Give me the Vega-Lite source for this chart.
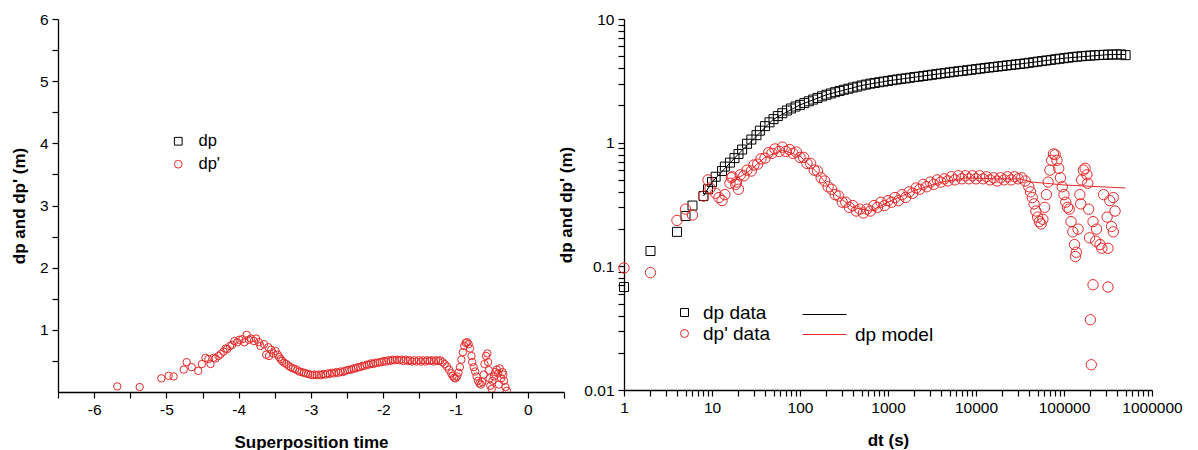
{
"$schema":"https://vega.github.io/schema/vega-lite/v6.json",
"background":"white",
"padding":{"left":10,"top":12,"right":0,"bottom":0},
"bounds":"flush",
"spacing":60,
"config":{
 "view":{"stroke":null},
 "font":"Liberation Sans",
 "axis":{"grid":false,"domainColor":"#000","domainWidth":1.3,"tickColor":"#000","tickWidth":1.2,"tickSize":6,"labelColor":"#000","labelFont":"Liberation Sans","labelFontSize":15.5,"titleFont":"Liberation Sans","titleFontSize":17,"titleFontWeight":"bold","titleColor":"#000","labelPadding":4,"labelFlush":false,"labelOverlap":false},
 "legend":{"labelFont":"Liberation Sans","labelFontSize":16,"labelColor":"#000","padding":0,"symbolStrokeWidth":1,"symbolOpacity":1,"titlePadding":0}
},
"resolve":{"scale":{"color":"independent","shape":"independent","stroke":"independent"},"legend":{"color":"independent","shape":"independent","stroke":"independent"}},
"datasets":{
 "left":[
  {"x":-5.68,"y":0.09},{"x":-5.37,"y":0.08},{"x":-5.07,"y":0.22},{"x":-4.97,"y":0.26},{"x":-4.9,"y":0.25},{"x":-4.76,"y":0.36},{"x":-4.72,"y":0.48},{"x":-4.65,"y":0.4},{"x":-4.56,"y":0.34},{"x":-4.51,"y":0.45},{"x":-4.46,"y":0.55},{"x":-4.42,"y":0.53},{"x":-4.39,"y":0.45},{"x":-4.35,"y":0.55},{"x":-4.32,"y":0.54},{"x":-4.28,"y":0.58},{"x":-4.25,"y":0.61},{"x":-4.21,"y":0.65},{"x":-4.18,"y":0.7},{"x":-4.16,"y":0.69},{"x":-4.12,"y":0.74},{"x":-4.09,"y":0.76},{"x":-4.06,"y":0.82},{"x":-4.02,"y":0.8},{"x":-3.99,"y":0.84},{"x":-3.95,"y":0.85},{"x":-3.92,"y":0.8},{"x":-3.89,"y":0.92},{"x":-3.86,"y":0.84},{"x":-3.83,"y":0.86},{"x":-3.79,"y":0.82},{"x":-3.76,"y":0.86},{"x":-3.72,"y":0.8},{"x":-3.7,"y":0.74},{"x":-3.65,"y":0.77},{"x":-3.62,"y":0.6},{"x":-3.59,"y":0.72},{"x":-3.58,"y":0.58},{"x":-3.55,"y":0.68},{"x":-3.52,"y":0.62},{"x":-3.49,"y":0.66},{"x":-3.46,"y":0.6},{"x":-3.44,"y":0.56},{"x":-3.42,"y":0.53},{"x":-3.4,"y":0.5},{"x":-3.37,"y":0.47},{"x":-3.34,"y":0.45},{"x":-3.31,"y":0.42},{"x":-3.28,"y":0.4},{"x":-3.25,"y":0.38},{"x":-3.22,"y":0.37},{"x":-3.19,"y":0.35},{"x":-3.16,"y":0.33},{"x":-3.13,"y":0.32},{"x":-3.1,"y":0.31},{"x":-3.07,"y":0.3},{"x":-3.04,"y":0.29},{"x":-3.01,"y":0.28},{"x":-2.98,"y":0.27},{"x":-2.95,"y":0.28},{"x":-2.92,"y":0.27},{"x":-2.89,"y":0.28},{"x":-2.86,"y":0.27},{"x":-2.83,"y":0.29},{"x":-2.8,"y":0.28},{"x":-2.77,"y":0.3},{"x":-2.74,"y":0.29},{"x":-2.71,"y":0.31},{"x":-2.68,"y":0.3},{"x":-2.65,"y":0.32},{"x":-2.62,"y":0.31},{"x":-2.59,"y":0.33},{"x":-2.56,"y":0.32},{"x":-2.53,"y":0.34},{"x":-2.5,"y":0.35},{"x":-2.47,"y":0.36},{"x":-2.44,"y":0.36},{"x":-2.41,"y":0.38},{"x":-2.38,"y":0.38},{"x":-2.35,"y":0.4},{"x":-2.32,"y":0.4},{"x":-2.29,"y":0.42},{"x":-2.26,"y":0.42},{"x":-2.23,"y":0.44},{"x":-2.2,"y":0.44},{"x":-2.17,"y":0.46},{"x":-2.14,"y":0.45},{"x":-2.11,"y":0.47},{"x":-2.08,"y":0.47},{"x":-2.05,"y":0.48},{"x":-2.02,"y":0.48},{"x":-1.99,"y":0.5},{"x":-1.96,"y":0.49},{"x":-1.93,"y":0.51},{"x":-1.9,"y":0.5},{"x":-1.87,"y":0.52},{"x":-1.84,"y":0.51},{"x":-1.81,"y":0.52},{"x":-1.78,"y":0.51},{"x":-1.75,"y":0.52},{"x":-1.72,"y":0.5},{"x":-1.69,"y":0.52},{"x":-1.66,"y":0.5},{"x":-1.63,"y":0.51},{"x":-1.6,"y":0.49},{"x":-1.57,"y":0.51},{"x":-1.54,"y":0.49},{"x":-1.51,"y":0.51},{"x":-1.48,"y":0.49},{"x":-1.45,"y":0.51},{"x":-1.42,"y":0.49},{"x":-1.39,"y":0.51},{"x":-1.36,"y":0.5},{"x":-1.33,"y":0.51},{"x":-1.3,"y":0.49},{"x":-1.27,"y":0.51},{"x":-1.24,"y":0.5},{"x":-1.21,"y":0.51},{"x":-1.18,"y":0.48},{"x":-1.15,"y":0.45},{"x":-1.12,"y":0.41},{"x":-1.09,"y":0.36},{"x":-1.06,"y":0.3},{"x":-1.04,"y":0.26},{"x":-1.02,"y":0.23},{"x":-1.0,"y":0.22},{"x":-0.98,"y":0.25},{"x":-0.96,"y":0.31},{"x":-0.94,"y":0.4},{"x":-0.92,"y":0.52},{"x":-0.9,"y":0.64},{"x":-0.88,"y":0.74},{"x":-0.86,"y":0.79},{"x":-0.84,"y":0.8},{"x":-0.82,"y":0.77},{"x":-0.8,"y":0.7},{"x":-0.78,"y":0.58},{"x":-0.77,"y":0.48},{"x":-0.75,"y":0.4},{"x":-0.73,"y":0.33},{"x":-0.71,"y":0.25},{"x":-0.69,"y":0.18},{"x":-0.67,"y":0.14},{"x":-0.65,"y":0.12},{"x":-0.63,"y":0.16},{"x":-0.61,"y":0.28},{"x":-0.6,"y":0.45},{"x":-0.58,"y":0.58},{"x":-0.56,"y":0.62},{"x":-0.55,"y":0.48},{"x":-0.54,"y":0.35},{"x":-0.53,"y":0.22},{"x":-0.52,"y":0.1},{"x":-0.5,"y":0.05},{"x":-0.49,"y":0.18},{"x":-0.47,"y":0.25},{"x":-0.45,"y":0.32},{"x":-0.43,"y":0.36},{"x":-0.41,"y":0.3},{"x":-0.4,"y":0.12},{"x":-0.39,"y":0.38},{"x":-0.37,"y":0.22},{"x":-0.35,"y":0.32},{"x":-0.34,"y":0.28},{"x":-0.33,"y":0.18},{"x":-0.31,"y":0.08},{"x":-0.29,"y":0.02}
 ],
 "dp":[
  {"t":1,"v":0.068},{"t":2,"v":0.133},{"t":4,"v":0.19},{"t":5,"v":0.255},{"t":6,"v":0.31},{"t":8,"v":0.37},{"t":9,"v":0.42},{"t":10,"v":0.48},{"t":11,"v":0.53},{"t":13,"v":0.59},{"t":14,"v":0.64},{"t":16,"v":0.69},{"t":18,"v":0.75},{"t":20,"v":0.81},{"t":22,"v":0.88},{"t":25,"v":0.98},{"t":28,"v":1.06},{"t":32,"v":1.15},{"t":35,"v":1.25},{"t":40,"v":1.36},{"t":45,"v":1.46},{"t":50,"v":1.55},{"t":56,"v":1.64},{"t":63,"v":1.73},{"t":71,"v":1.82},{"t":79,"v":1.89},{"t":89,"v":1.96},{"t":100,"v":2.02},{"t":112,"v":2.09},{"t":126,"v":2.16},{"t":141,"v":2.23},{"t":158,"v":2.3},{"t":178,"v":2.37},{"t":200,"v":2.44},{"t":224,"v":2.5},{"t":251,"v":2.56},{"t":282,"v":2.62},{"t":316,"v":2.68},{"t":355,"v":2.73},{"t":398,"v":2.79},{"t":447,"v":2.84},{"t":501,"v":2.9},{"t":562,"v":2.95},{"t":631,"v":3.0},{"t":708,"v":3.04},{"t":794,"v":3.08},{"t":891,"v":3.12},{"t":1000,"v":3.16},{"t":1122,"v":3.2},{"t":1259,"v":3.24},{"t":1413,"v":3.28},{"t":1585,"v":3.31},{"t":1778,"v":3.35},{"t":1995,"v":3.39},{"t":2239,"v":3.42},{"t":2512,"v":3.46},{"t":2818,"v":3.5},{"t":3162,"v":3.54},{"t":3548,"v":3.58},{"t":3981,"v":3.62},{"t":4467,"v":3.66},{"t":5012,"v":3.7},{"t":5623,"v":3.74},{"t":6310,"v":3.78},{"t":7079,"v":3.81},{"t":7943,"v":3.85},{"t":8913,"v":3.89},{"t":10000,"v":3.93},{"t":11220,"v":3.97},{"t":12589,"v":4.01},{"t":14125,"v":4.05},{"t":15849,"v":4.09},{"t":17783,"v":4.13},{"t":19953,"v":4.17},{"t":22387,"v":4.21},{"t":25119,"v":4.25},{"t":28184,"v":4.29},{"t":31623,"v":4.33},{"t":35481,"v":4.37},{"t":39811,"v":4.42},{"t":44668,"v":4.47},{"t":50119,"v":4.52},{"t":56234,"v":4.57},{"t":63096,"v":4.62},{"t":70795,"v":4.67},{"t":79433,"v":4.72},{"t":89125,"v":4.77},{"t":100000,"v":4.82},{"t":112202,"v":4.87},{"t":125893,"v":4.92},{"t":141254,"v":4.96},{"t":158489,"v":5.0},{"t":177828,"v":5.03},{"t":199526,"v":5.06},{"t":223872,"v":5.09},{"t":251189,"v":5.11},{"t":281838,"v":5.13},{"t":316228,"v":5.15},{"t":354813,"v":5.16},{"t":398107,"v":5.17},{"t":446684,"v":5.17},{"t":501187,"v":5.1}
 ],
 "dpd":[
  {"t":1,"v":0.097},{"t":2,"v":0.089},{"t":4,"v":0.235},{"t":5,"v":0.29},{"t":6,"v":0.26},{"t":8,"v":0.37},{"t":9,"v":0.5},{"t":9.5,"v":0.43},{"t":11,"v":0.39},{"t":12,"v":0.36},{"t":13,"v":0.34},{"t":14,"v":0.38},{"t":16.6,"v":0.52},{"t":18.6,"v":0.46},{"t":20,"v":0.42},
  {"t":16,"v":0.47},{"t":17,"v":0.53},{"t":19,"v":0.48},{"t":21,"v":0.55},{"t":23,"v":0.54},{"t":25,"v":0.6},{"t":28,"v":0.59},{"t":30,"v":0.66},{"t":33,"v":0.67},{"t":36,"v":0.74},{"t":40,"v":0.75},{"t":44,"v":0.83},{"t":48,"v":0.82},{"t":52,"v":0.89},{"t":58,"v":0.85},{"t":63,"v":0.92},{"t":69,"v":0.85},{"t":76,"v":0.88},{"t":83,"v":0.82},{"t":91,"v":0.84},{"t":100,"v":0.76},{"t":110,"v":0.76},{"t":120,"v":0.68},{"t":132,"v":0.68},{"t":145,"v":0.6},{"t":158,"v":0.59},{"t":174,"v":0.52},{"t":191,"v":0.49},{"t":209,"v":0.44},{"t":229,"v":0.42},{"t":251,"v":0.38},{"t":275,"v":0.37},{"t":302,"v":0.33},{"t":331,"v":0.33},{"t":363,"v":0.3},{"t":398,"v":0.31},{"t":437,"v":0.28},{"t":479,"v":0.29},{"t":525,"v":0.27},{"t":575,"v":0.29},{"t":631,"v":0.28},{"t":692,"v":0.31},{"t":759,"v":0.3},{"t":832,"v":0.33},{"t":912,"v":0.31},{"t":1000,"v":0.34},{"t":1096,"v":0.33},{"t":1202,"v":0.36},{"t":1318,"v":0.34},{"t":1445,"v":0.38},{"t":1585,"v":0.36},{"t":1738,"v":0.4},{"t":1905,"v":0.39},{"t":2089,"v":0.43},{"t":2291,"v":0.42},{"t":2512,"v":0.46},{"t":2754,"v":0.44},{"t":3020,"v":0.48},{"t":3311,"v":0.46},{"t":3631,"v":0.5},{"t":3981,"v":0.48},{"t":4365,"v":0.51},{"t":4786,"v":0.49},{"t":5248,"v":0.53},{"t":5754,"v":0.5},{"t":6310,"v":0.54},{"t":6918,"v":0.51},{"t":7586,"v":0.54},{"t":8318,"v":0.51},{"t":9120,"v":0.54},{"t":10000,"v":0.51},{"t":10965,"v":0.54},{"t":12023,"v":0.51},{"t":13183,"v":0.53},{"t":14454,"v":0.5},{"t":15849,"v":0.52},{"t":17378,"v":0.49},{"t":19055,"v":0.52},{"t":20893,"v":0.5},{"t":22909,"v":0.53},{"t":25119,"v":0.5},{"t":27542,"v":0.53},{"t":30200,"v":0.51},{"t":33113,"v":0.52},{"t":36308,"v":0.49},
  {"t":39811,"v":0.44},{"t":41687,"v":0.4},{"t":43652,"v":0.36},{"t":45709,"v":0.32},{"t":47863,"v":0.28},{"t":50119,"v":0.25},{"t":52481,"v":0.23},{"t":54954,"v":0.22},{"t":57544,"v":0.24},{"t":60256,"v":0.3},{"t":63096,"v":0.38},{"t":66069,"v":0.48},{"t":69183,"v":0.6},{"t":72444,"v":0.72},{"t":75858,"v":0.81},{"t":79433,"v":0.8},{"t":83176,"v":0.72},{"t":87096,"v":0.62},{"t":91201,"v":0.52},{"t":95499,"v":0.44},{"t":100000,"v":0.38},{"t":104713,"v":0.33},{"t":109648,"v":0.3},{"t":114815,"v":0.29},{"t":120226,"v":0.23},{"t":125893,"v":0.19},{"t":131826,"v":0.15},{"t":134896,"v":0.12},{"t":138038,"v":0.13},{"t":144544,"v":0.2},{"t":151356,"v":0.38},{"t":154882,"v":0.32},{"t":158489,"v":0.5},{"t":165959,"v":0.6},{"t":173780,"v":0.62},{"t":181970,"v":0.55},{"t":186209,"v":0.47},{"t":190546,"v":0.29},{"t":194984,"v":0.17},{"t":199526,"v":0.037},{"t":204174,"v":0.016},{"t":213796,"v":0.071},{"t":213796,"v":0.23},{"t":229087,"v":0.16},{"t":234423,"v":0.2},{"t":257040,"v":0.15},{"t":269153,"v":0.14},{"t":281838,"v":0.38},{"t":309030,"v":0.25},{"t":316228,"v":0.068},{"t":316228,"v":0.14},{"t":331131,"v":0.34},{"t":346737,"v":0.21},{"t":363078,"v":0.36},{"t":380189,"v":0.28},{"t":363078,"v":0.19}
 ],
 "mfit":[
  {"t":8,"v":0.37},{"t":10,"v":0.48},{"t":20,"v":0.81},{"t":50,"v":1.55},{"t":100,"v":2.02},{"t":200,"v":2.44},{"t":500,"v":2.9},{"t":1000,"v":3.16},{"t":3162,"v":3.54},{"t":10000,"v":3.93},{"t":31623,"v":4.33},{"t":100000,"v":4.82},{"t":316228,"v":5.15},{"t":500000,"v":5.17}
 ],
 "mmod":[
  {"t":16,"v":0.48},{"t":25,"v":0.57},{"t":40,"v":0.76},{"t":63,"v":0.87},{"t":100,"v":0.78},{"t":158,"v":0.57},{"t":251,"v":0.38},{"t":398,"v":0.3},{"t":631,"v":0.28},{"t":1000,"v":0.33},{"t":1995,"v":0.41},{"t":3981,"v":0.48},{"t":7943,"v":0.52},{"t":15849,"v":0.51},{"t":31623,"v":0.51},{"t":43652,"v":0.48},{"t":100000,"v":0.455},{"t":500000,"v":0.43}
 ]
},
"hconcat":[
 {
  "width":506,"height":373,
  "data":{"name":"left"},
  "mark":{"type":"point","filled":false,"opacity":1,"size":55,"strokeWidth":1,"clip":true},
  "encoding":{
   "x":{"field":"x","type":"quantitative","scale":{"domain":[-6.5,0.5],"nice":false,"zero":false},
        "axis":{"title":"Superposition time","values":[-6.5,-6,-5.5,-5,-4.5,-4,-3.5,-3,-2.5,-2,-1.5,-1,-0.5,0,0.5],"labelExpr":"datum.value % 1 == 0 ? toString(datum.value) : ''","titlePadding":17}},
   "y":{"field":"y","type":"quantitative","scale":{"domain":[0,6],"nice":false},
        "axis":{"title":"dp and dp' (m)","values":[0.5,1,1.5,2,2.5,3,3.5,4,4.5,5,5.5,6],"labelExpr":"datum.value % 1 == 0 ? toString(datum.value) : ''","titlePadding":11}},
   "color":{"datum":"dp'","type":"nominal","scale":{"domain":["dp","dp'"],"range":["#000000","#e62a2a"]},
        "legend":{"orient":"none","legendX":112,"legendY":114,"title":null,"labelOffset":12,"rowPadding":6,"symbolSize":60,"labelFontSize":16.5}},
   "shape":{"datum":"dp'","type":"nominal","scale":{"domain":["dp","dp'"],"range":["square","circle"]}}
  }
 },
 {
  "width":528,"height":371,
  "layer":[
   {
    "data":{"name":"dp"},
    "mark":{"type":"point","filled":false,"opacity":1,"size":81,"strokeWidth":1},
    "encoding":{
     "x":{"field":"t","type":"quantitative","scale":{"type":"log","domain":[1,1000000],"nice":false},
          "axis":{"title":"dt (s)","values":[1,2,3,4,5,6,7,8,9,10,20,30,40,50,60,70,80,90,100,200,300,400,500,600,700,800,900,1000,2000,3000,4000,5000,6000,7000,8000,9000,10000,20000,30000,40000,50000,60000,70000,80000,90000,100000,200000,300000,400000,500000,600000,700000,800000,900000,1000000],"labelExpr":"indexof([1,10,100,1000,10000,100000,1000000], datum.value) >= 0 ? toString(datum.value) : ''","titlePadding":17}},
     "y":{"field":"v","type":"quantitative","scale":{"type":"log","domain":[0.01,10],"nice":false},
          "axis":{"title":"dp and dp' (m)","values":[0.01,0.02,0.03,0.04,0.05,0.06,0.07,0.08,0.09,0.1,0.2,0.3,0.4,0.5,0.6,0.7,0.8,0.9,1,2,3,4,5,6,7,8,9,10],"labelExpr":"indexof([0.01,0.1,1,10], datum.value) >= 0 ? toString(datum.value) : ''","titlePadding":8}},
     "color":{"datum":"dp data","type":"nominal","scale":{"domain":["dp data","dp' data"],"range":["#000000","#e62a2a"]},
          "legend":{"orient":"none","legendX":51,"legendY":284,"title":null,"labelOffset":9,"rowPadding":1,"symbolSize":64,"labelFontSize":19}},
     "shape":{"datum":"dp data","type":"nominal","scale":{"domain":["dp data","dp' data"],"range":["square","circle"]}}
    }
   },
   {
    "data":{"name":"dpd"},
    "mark":{"type":"point","filled":false,"opacity":1,"size":107,"strokeWidth":1},
    "encoding":{
     "x":{"field":"t","type":"quantitative"},
     "y":{"field":"v","type":"quantitative"},
     "color":{"datum":"dp' data","type":"nominal"},
     "shape":{"datum":"dp' data","type":"nominal"}
    }
   },
   {
    "data":{"name":"mfit"},
    "mark":{"type":"line","strokeWidth":1},
    "encoding":{
     "x":{"field":"t","type":"quantitative"},
     "y":{"field":"v","type":"quantitative"},
     "stroke":{"datum":"dp fit","type":"nominal","scale":{"domain":["dp fit","dp model"],"range":["#000000","#e62a2a"]},
          "legend":{"orient":"none","legendX":191,"legendY":286,"title":null,"symbolType":"M-4,0H4","symbolSize":121,"labelOffset":21,"rowPadding":0,"labelFontSize":19,"labelExpr":"datum.label == 'dp model' ? datum.label : ' '"}}
    }
   },
   {
    "data":{"name":"mmod"},
    "mark":{"type":"line","strokeWidth":1},
    "encoding":{
     "x":{"field":"t","type":"quantitative"},
     "y":{"field":"v","type":"quantitative"},
     "stroke":{"datum":"dp model","type":"nominal"}
    }
   }
  ]
 }
]
}
